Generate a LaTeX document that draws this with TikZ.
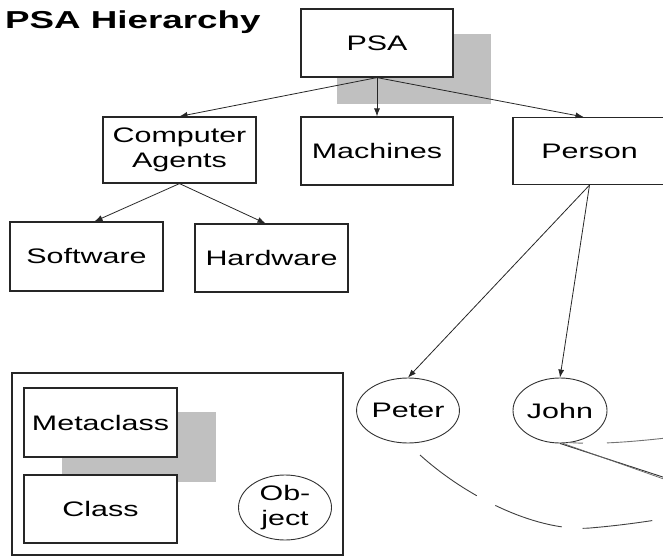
\documentclass[tikz,border=0pt]{standalone}
\usepackage{fontspec}
\usepackage{tikz}
\usetikzlibrary{shapes.geometric,arrows.meta}
\newfontfamily\boxfont[FakeStretch=1.45]{Liberation Sans}
\newfontfamily\headfont[FakeStretch=1.5]{Liberation Sans}
\definecolor{shadegray}{HTML}{C0C0C0}
\tikzset{
  box/.style={draw=black!85,line width=1.2pt,fill=white,minimum width=153pt,minimum height=68pt,
    inner sep=0pt,align=center,font=\boxfont\fontsize{21}{25}\selectfont},
  oval/.style={ellipse,draw=black!80,line width=0.9pt,fill=white,minimum width=93pt,minimum height=65pt,
    inner sep=0pt,align=center,font=\boxfont\fontsize{21}{25}\selectfont},
  shadowbox/.style={fill=shadegray,minimum width=154pt,minimum height=70pt,inner sep=0pt},
  arr/.style={-{Latex[length=8pt,width=6pt]},line width=0.8pt,black!85},
  longdash/.style={black!75,line width=0.9pt,dash pattern=on 70pt off 21pt}
}
\begin{document}
\begin{tikzpicture}[x=1pt,y=-1pt]
\useasboundingbox (0,0) rectangle (663,556);
\clip (0,0) rectangle (663,556);
%% title
\node[anchor=base west,inner sep=0pt,font=\headfont\bfseries\fontsize{24.5}{28}\selectfont] (title) at (5,29) {PSA Hierarchy};
%% shadows
\node[shadowbox] (psashadow) at (414,69) {};
\node[shadowbox] (metashadow) at (139,447) {};
%% boxes
\node[box,minimum width=152pt] (psa) at (377,43) {PSA};
\node[box,minimum height=66pt] (agents) at (179.5,150) {Computer\\Agents};
\node[box,minimum width=152pt] (machines) at (377,151) {Machines};
\node[box,minimum height=67pt] (person) at (589.5,151) {Person};
\node[box,minimum height=69pt] (software) at (86.5,256.5) {Software};
\node[box] (hardware) at (271.5,258) {Hardware};
%% instances
\node[oval,minimum width=92pt] (peter) at (408,410.5) {Peter};
\node[oval,minimum width=94pt] (john) at (560,410.5) {John};
%% legend frame
\draw[black!85,line width=1.2pt] (12,373) rectangle (343,555);
\node[box,minimum height=69pt] (metaclass) at (100.5,422.5) {Metaclass};
\node[box] (class) at (100.5,509) {Class};
\node[oval] (object) at (285,507.5) {Ob-\\ject};
%%% edges
\draw[arr] (psa.south) -- (agents.north);
\draw[arr] (psa.south) -- (machines.north);
\draw[arr] (psa.south) -- ([xshift=-6pt]person.north);
\draw[arr] (agents.south) -- ([xshift=8pt]software.north);
\draw[arr] (agents.south) -- ([xshift=-6pt]hardware.north);
\draw[arr] (person.south) -- (peter.north);
\draw[arr] (person.south) -- (john.north);
%%% links leaving the page
\coordinate (offlow) at (675,517);
\coordinate (offmid) at (675,481);
\coordinate (offhigh) at (675,437);
\draw[black!80,line width=0.9pt] (john.south) -- (offmid);
\draw[black!60,line width=0.7pt] ([xshift=3pt]john.south) -- ([yshift=-2pt]offmid);
\draw[black!55,line width=0.9pt,dash pattern=on 15pt off 24pt on 90pt off 20pt] ([xshift=8pt,yshift=1pt]john.south) .. controls (600,445) and (640,441) .. (offhigh);
\draw[longdash] (420,455) .. controls (470,500) and (540,532) .. (590,528) .. controls (625,525) and (650,521) .. (offlow);
\end{tikzpicture}
\end{document}
